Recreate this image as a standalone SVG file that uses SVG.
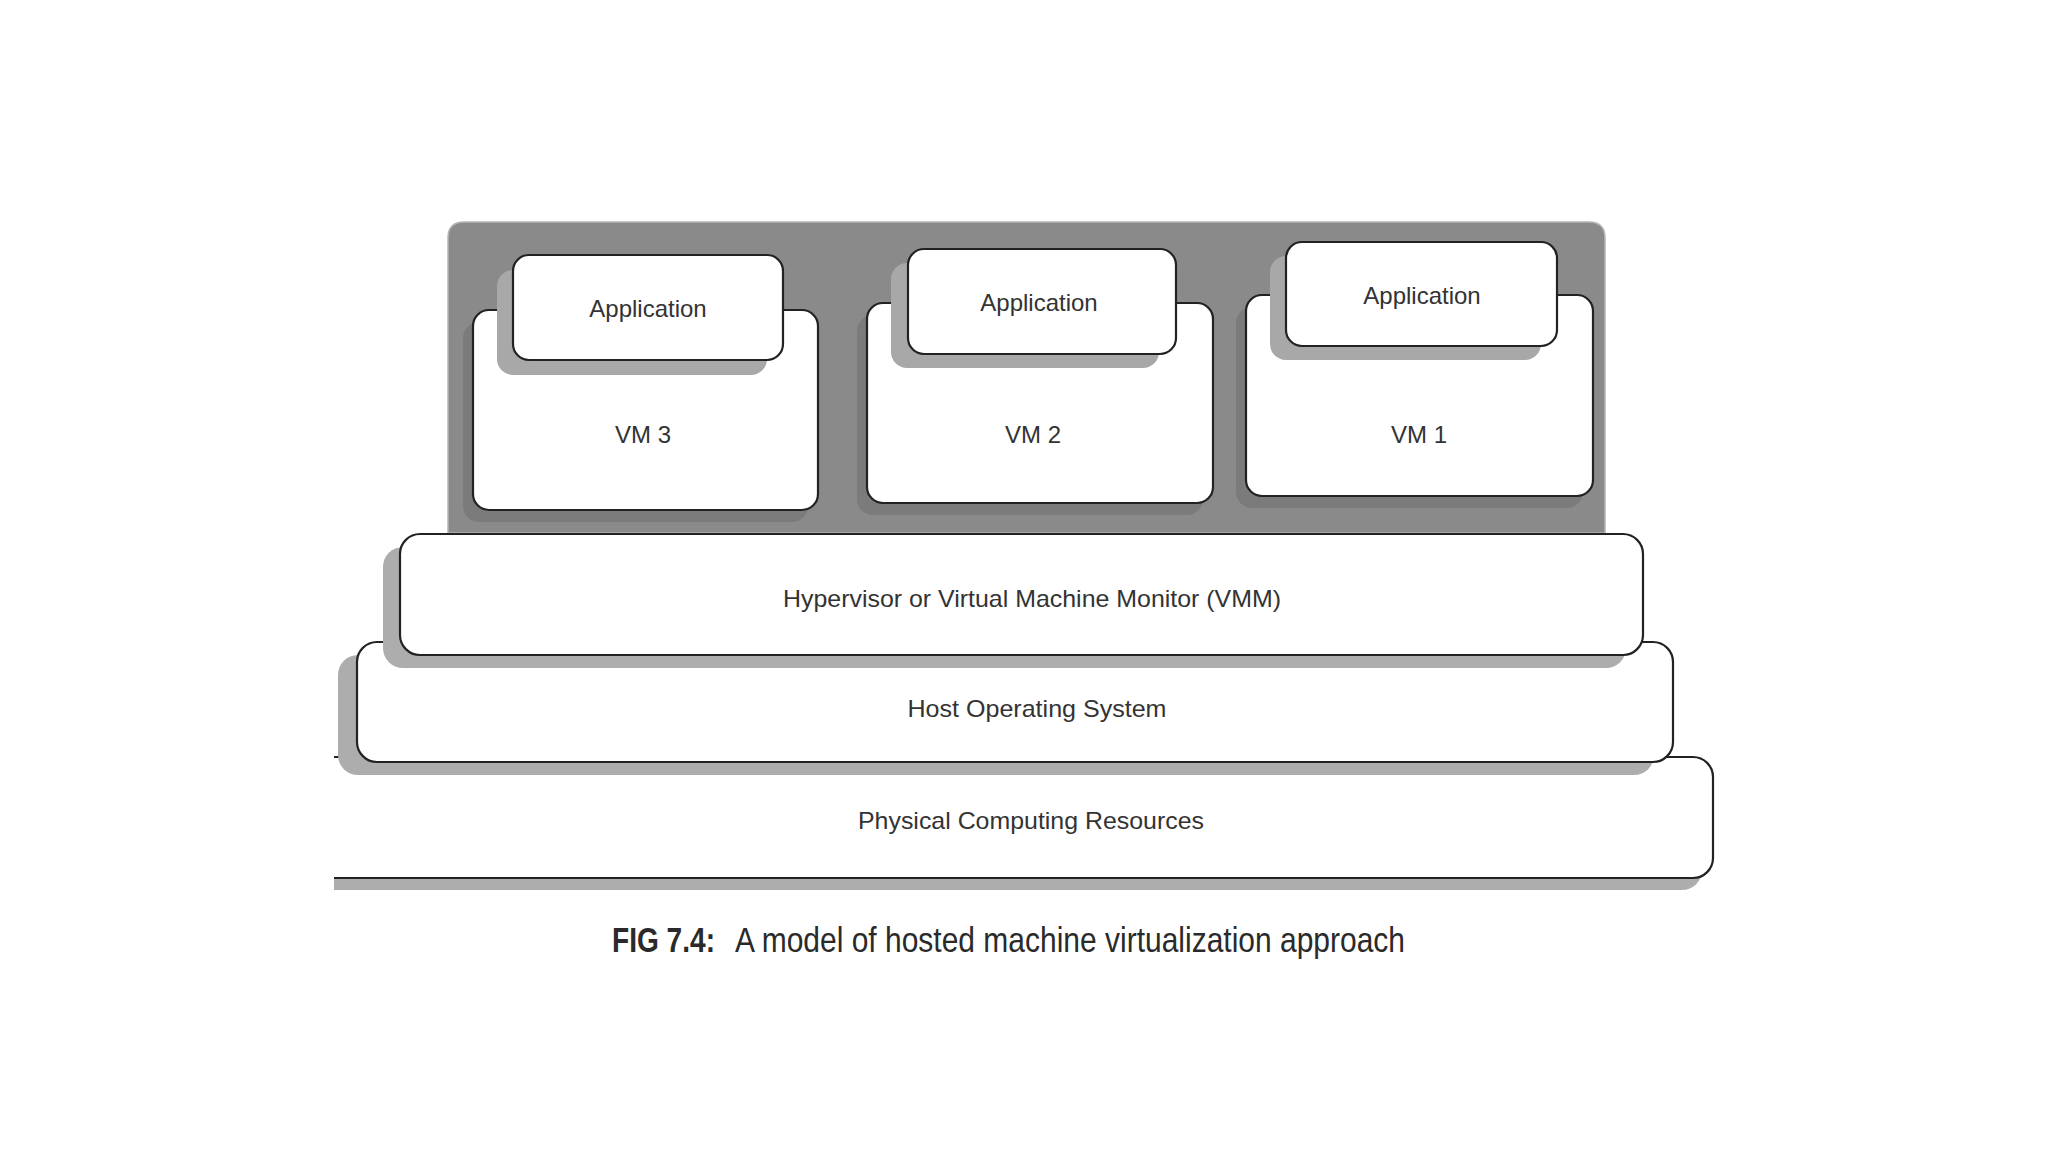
<svg xmlns="http://www.w3.org/2000/svg" width="2048" height="1152" viewBox="0 0 2048 1152">
<defs>
<style>
.box{fill:#fff;stroke:#222;stroke-width:2.2}
.lshadow{fill:#adadad}
.vshadow{fill:#7b7b7b}
.ashadow{fill:#a8a8a8}
.lbl{font-family:"Liberation Sans",Arial,sans-serif;font-size:24px;fill:#333;text-anchor:middle}
.cap{font-family:"Liberation Sans Narrow","Liberation Sans",Arial,sans-serif;font-size:35px;fill:#2a2a2a}
</style>
<clipPath id="leftclip"><rect x="334" y="0" width="1714" height="1152"/></clipPath>
</defs>
<rect width="2048" height="1152" fill="#fff"/>

<g id="vm-container">
<path d="M448,533 V238 Q448,222 464,222 H1589 Q1605,222 1605,238 V533 Z" fill="#8a8a8a" stroke="#b5b5b5" stroke-width="1.5"/>
</g>

<g id="vm3">
<rect class="vshadow" x="463" y="322" width="345" height="200" rx="16"/>
<rect class="box" x="473" y="310" width="345" height="200" rx="16"/>
<text class="lbl" x="643" y="443">VM 3</text>
</g>
<g id="app3">
<rect class="ashadow" x="497" y="270" width="270" height="105" rx="16"/>
<rect class="box" x="513" y="255" width="270" height="105" rx="16"/>
<text class="lbl" x="648" y="317">Application</text>
</g>

<g id="vm2">
<rect class="vshadow" x="857" y="315" width="346" height="200" rx="16"/>
<rect class="box" x="867" y="303" width="346" height="200" rx="16"/>
<text class="lbl" x="1033" y="443">VM 2</text>
</g>
<g id="app2">
<rect class="ashadow" x="891" y="263" width="268" height="105" rx="16"/>
<rect class="box" x="908" y="249" width="268" height="105" rx="16"/>
<text class="lbl" x="1039" y="311">Application</text>
</g>

<g id="vm1">
<rect class="vshadow" x="1236" y="307" width="347" height="201" rx="16"/>
<rect class="box" x="1246" y="295" width="347" height="201" rx="16"/>
<text class="lbl" x="1419" y="443">VM 1</text>
</g>
<g id="app1">
<rect class="ashadow" x="1270" y="256" width="271" height="104" rx="16"/>
<rect class="box" x="1286" y="242" width="271" height="104" rx="16"/>
<text class="lbl" x="1422" y="304">Application</text>
</g>

<g id="physical" clip-path="url(#leftclip)">
<rect class="lshadow" x="282" y="769" width="1420" height="121" rx="20"/>
<rect class="box" x="300" y="757" width="1413" height="121" rx="20"/>
<text class="lbl" x="1031" y="829" textLength="346" lengthAdjust="spacingAndGlyphs">Physical Computing Resources</text>
</g>

<g id="host-os">
<rect class="lshadow" x="338" y="655" width="1316" height="120" rx="20"/>
<rect class="box" x="357" y="642" width="1316" height="120" rx="20"/>
<text class="lbl" x="1037" y="717" textLength="259" lengthAdjust="spacingAndGlyphs">Host Operating System</text>
</g>

<g id="hypervisor">
<rect class="lshadow" x="383" y="547" width="1243" height="121" rx="20"/>
<rect class="box" x="400" y="534" width="1243" height="121" rx="20"/>
<text class="lbl" x="1032" y="607" textLength="498" lengthAdjust="spacingAndGlyphs">Hypervisor or Virtual Machine Monitor (VMM)</text>
</g>

<g id="connectors"/>

<g id="caption">
<text class="cap" x="612" y="952" font-weight="bold" textLength="103" lengthAdjust="spacingAndGlyphs">FIG 7.4:</text>
<text class="cap" x="735" y="952" textLength="670" lengthAdjust="spacingAndGlyphs">A model of hosted machine virtualization approach</text>
</g>
</svg>
